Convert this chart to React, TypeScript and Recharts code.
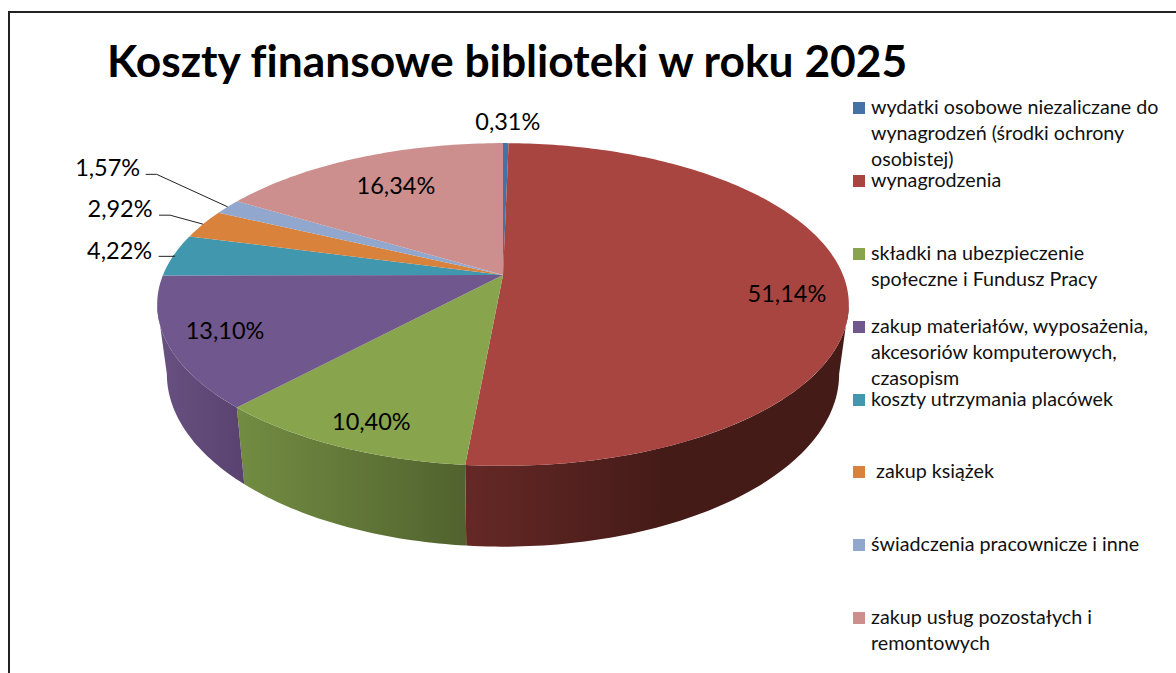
import { PieChart, Pie, Legend } from 'recharts'

const categories = [
  'wydatki osobowe niezaliczane do\nwynagrodzeń (środki ochrony\nosobistej)',
  'wynagrodzenia',
  'składki na ubezpieczenie\nspołeczne i Fundusz Pracy',
  'zakup materiałów, wyposażenia,\nakcesoriów komputerowych,\nczasopism',
  'koszty utrzymania placówek',
  ' zakup książek',
  'świadczenia pracownicze i inne',
  'zakup usług pozostałych i\nremontowych'
]
const shares = [0.31, 51.14, 10.4, 13.1, 4.22, 2.92, 1.57, 16.34]
const sliceColors = ['#4471A6', '#A94541', '#88A44D', '#70578D', '#4097AE', '#D9823C', '#91A7CD', '#CC8F8E']

const tableData = categories.map((name, i) => ({ name, value: shares[i], fill: sliceColors[i] }))

// offset of each value label from the rim point at the middle of its slice
const labelOffsets = [[2, -22], [-59, 9], [34, -25], [58, -13], [-54, -5], [-83, -16], [-120, -40], [37, 27]]
// leader lines for the small slices: index -> start offset from the label centre, stub length
const leaders: Record<number, [number, number, number]> = {
  4: [39, 6, 16],
  5: [39, 7, 11],
  6: [38, 7.5, 11]
}

// perspective of the tilted disc
const TILT = 0.1827
const FLATTEN = 0.4588
const WALL_SX = 0.972
const WALL_SY = 1.07
const ELLIPSE_MID = 29.5
const WALL_DROP = 99

const RADIAN = Math.PI / 180
const rim = (cx: number, cy: number, r: number, deg: number) => {
  const u = Math.cos(deg * RADIAN)
  const w = Math.sin(deg * RADIAN)
  const d = 1 + TILT * w
  return { x: cx + (r * u) / d, y: cy - (r * FLATTEN * w) / d }
}
const lowRim = (cx: number, cy: number, r: number, deg: number) => {
  const p = rim(cx, cy, r, deg)
  return {
    x: cx + (p.x - cx) * WALL_SX,
    y: cy + WALL_DROP + (p.y - cy - ELLIPSE_MID) * WALL_SY
  }
}
const sweep = (from: number, to: number) => {
  const n = Math.max(2, Math.ceil(Math.abs(from - to)))
  return Array.from({ length: n + 1 }, (_, i) => from + ((to - from) * i) / n)
}
const toPath = (pts: { x: number; y: number }[]) =>
  pts.map((p, i) => `${i ? 'L' : 'M'}${p.x.toFixed(2)} ${p.y.toFixed(2)}`).join(' ') + ' Z'

const FRONT_FROM = -10.53
const FRONT_TO = -169.47

const Slice3D = (props: any) => {
  const { cx, cy, outerRadius, startAngle, endAngle, fill, index } = props
  const wallFrom = Math.min(startAngle, FRONT_FROM)
  const wallTo = Math.max(endAngle, FRONT_TO)
  const top = sweep(startAngle, endAngle).map((a) => rim(cx, cy, outerRadius, a))
  let wall = null
  if (wallFrom > wallTo) {
    const angles = sweep(wallFrom, wallTo)
    const pts = [
      ...angles.map((a) => rim(cx, cy, outerRadius, a)),
      ...angles.reverse().map((a) => lowRim(cx, cy, outerRadius, a))
    ]
    wall = <path d={toPath(pts)} fill={`url(#wall-${index})`} />
  }
  return (
    <g>
      {wall}
      <path d={toPath([{ x: cx, y: cy }, ...top])} fill={fill} />
    </g>
  )
}

const renderLabel = (props: any) => {
  const { cx, cy, midAngle, outerRadius, index, value } = props
  const p = rim(cx, cy, outerRadius, midAngle)
  const [dx, dy] = labelOffsets[index]
  const x = p.x + dx
  const y = p.y + dy
  const leader = leaders[index]
  return (
    <g key={index}>
      {leader && (
        <polyline
          points={`${x + leader[0]},${y + leader[1]} ${x + leader[0] + leader[2]},${y + leader[1]} ${p.x},${p.y}`}
          fill='none'
          stroke='#222'
          strokeWidth={1}
        />
      )}
      <text x={x} y={y} fill='#000' textAnchor='middle' dominantBaseline='central' fontSize={23.5}>
        {`${value.toFixed(2).replace('.', ',')}%`}
      </text>
    </g>
  )
}

const CustomLegend = (props: any) => {
  const { payload = [] } = props
  return (
    <div style={{ width: 310 }}>
      {payload.map((entry: any, i: number) => (
        <div key={i} style={{ height: 72.9, position: 'relative' }}>
          <div style={{ position: 'absolute', left: 0, top: 6, width: 12, height: 12, backgroundColor: entry.color }} />
          <div
            style={{
              position: 'absolute',
              left: 18,
              top: -2,
              fontSize: 19.7,
              lineHeight: '26px',
              color: '#111',
              whiteSpace: 'pre',
              textAlign: 'left'
            }}
          >
            {entry.value}
          </div>
        </div>
      ))}
    </div>
  )
}

export default function App() {
  return (
    <div
      style={{
        position: 'absolute',
        left: 0,
        top: 0,
        width: 1176,
        height: 673,
        overflow: 'hidden',
        background: '#fff',
        fontFamily: 'Lato, sans-serif',
        fontVariantLigatures: 'none'
      }}
    >
      <div style={{ position: 'absolute', left: 8, top: 11, width: 1200, height: 700, border: '2px solid #222' }} />
      <div
        style={{
          position: 'absolute',
          left: 107,
          top: 34,
          fontSize: 44.33,
          lineHeight: '52px',
          fontWeight: 700,
          color: '#000',
          whiteSpace: 'nowrap'
        }}
      >
        Koszty finansowe biblioteki w roku 2025
      </div>
      <div style={{ position: 'absolute', left: 0, top: 0 }}>
        <PieChart width={1176} height={673} margin={{ top: 0, right: 0, bottom: 0, left: 0 }} style={{ fontFamily: 'Lato, sans-serif' }}>
          <defs>
            <linearGradient id='wall-1' gradientUnits='userSpaceOnUse' x1={467} x2={660} y1={0} y2={0}>
              <stop offset='0%' stopColor='#652826' />
              <stop offset='100%' stopColor='#451B18' />
            </linearGradient>
            <linearGradient id='wall-2' gradientUnits='userSpaceOnUse' x1={240} x2={467} y1={0} y2={0}>
              <stop offset='0%' stopColor='#728C42' />
              <stop offset='100%' stopColor='#51622E' />
            </linearGradient>
            <linearGradient id='wall-3' gradientUnits='userSpaceOnUse' x1={160} x2={244} y1={0} y2={0}>
              <stop offset='0%' stopColor='#675180' />
              <stop offset='100%' stopColor='#5A4270' />
            </linearGradient>
          </defs>
          <Pie
            data={tableData}
            dataKey='value'
            nameKey='name'
            cx={503}
            cy={275}
            outerRadius={340}
            startAngle={90}
            endAngle={-270}
            stroke='none'
            shape={(p: any) => <Slice3D {...p} />}
            label={renderLabel}
            labelLine={false}
            isAnimationActive={false}
          />
          <Legend
            content={<CustomLegend />}
            itemSorter={null}
            wrapperStyle={{ position: 'absolute', left: 853, top: 96, width: 310 }}
          />
        </PieChart>
      </div>
    </div>
  )
}
